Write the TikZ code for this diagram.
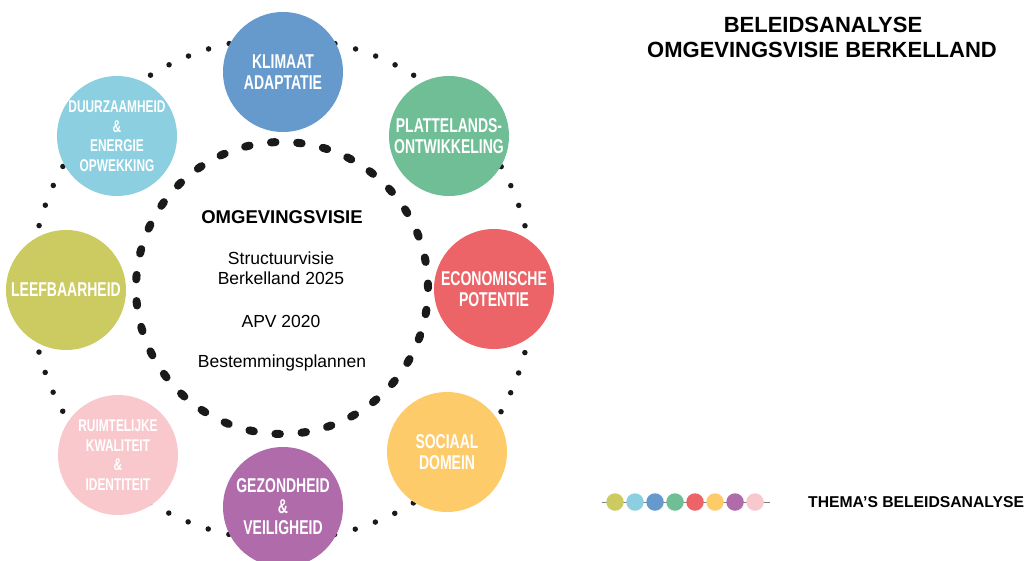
\documentclass[tikz,border=0pt]{standalone}
\usepackage{fontspec}
\setmainfont{Liberation Sans}
\newfontfamily\condfont{Liberation Sans}[FakeStretch=0.7]
\definecolor{cBlue}{RGB}{102,153,204}
\definecolor{cLight}{RGB}{139,207,224}
\definecolor{cGreen}{RGB}{111,190,150}
\definecolor{cRed}{RGB}{236,100,104}
\definecolor{cYellow}{RGB}{254,203,107}
\definecolor{cPurple}{RGB}{175,107,170}
\definecolor{cPink}{RGB}{248,200,204}
\definecolor{cOlive}{RGB}{204,203,98}
\definecolor{dotcol}{RGB}{26,26,26}
\begin{document}
\begin{tikzpicture}[x=1pt,y=-1pt,
  theme/.style={circle, minimum size=120pt, inner sep=0pt, draw=none, text=white, align=center,
    font=\condfont\bfseries\fontsize{20}{21}\selectfont},
  smalltheme/.style={theme, font=\condfont\bfseries\fontsize{17}{19.5}\selectfont},
  outerdots/.style={draw=dotcol, line width=5.5pt, line cap=round, dash pattern=on 0pt off 21.31pt},
  innerdash/.style={draw=dotcol, line width=8pt, line cap=round, dash pattern=on 4.5pt off 21.71pt},
  centertext/.style={anchor=base, inner sep=0pt, font=\fontsize{17.5}{20}\selectfont},
  titletext/.style={anchor=base, inner sep=0pt, font=\bfseries\fontsize{22}{25}\selectfont},
  legdot/.style={circle, minimum size=17.5pt, inner sep=0pt, draw=none}
]
\useasboundingbox (0,0) rectangle (1027,560);
\coordinate (ctr) at (282,289);
\coordinate (ictr) at (282,288);
% rings
\draw[outerdots] (ctr) circle[radius=251pt];
\draw[innerdash] (ictr) circle[radius=146pt];
% theme circles
\node[theme, fill=cBlue] (klimaat) at (283,72) {KLIMAAT\\ADAPTATIE};
\node[theme, fill=cGreen] (platteland) at (449,136) {PLATTELANDS-\\ONTWIKKELING};
\node[theme, fill=cRed] (econ) at (494,289) {ECONOMISCHE\\POTENTIE};
\node[theme, fill=cYellow] (sociaal) at (447,452) {SOCIAAL\\DOMEIN};
\node[theme, fill=cPurple] (gezond) at (283,507) {GEZONDHEID\\\&\\VEILIGHEID};
\node[smalltheme, fill=cPink] (ruimte) at (118,455) {RUIMTELIJKE\\KWALITEIT\\\&\\IDENTITEIT};
\node[theme, fill=cOlive] (leef) at (66,290) {LEEFBAARHEID};
\node[smalltheme, fill=cLight] (duurz) at (117,136) {DUURZAAMHEID\\\&\\ENERGIE\\OPWEKKING};
% center texts
\node[centertext, font=\bfseries\fontsize{18.5}{20}\selectfont] (omg) at (282,223) {OMGEVINGSVISIE};
\node[centertext] (sv1) at (281,264) {Structuurvisie};
\node[centertext] (sv2) at (281,284) {Berkelland 2025};
\node[centertext] (apv) at (281,327) {APV 2020};
\node[centertext] (bp) at (282,367) {Bestemmingsplannen};
% title
\node[titletext] (t1) at (823,32) {BELEIDSANALYSE};
\node[titletext] (t2) at (822,57) {OMGEVINGSVISIE BERKELLAND};
% legend
\coordinate (lgL) at (602,502);
\coordinate (lgR) at (770,502);
\draw[gray, line width=0.8pt] (lgL) -- (lgR);
\foreach \c [count=\i from 0] in {cOlive,cLight,cBlue,cGreen,cRed,cYellow,cPurple,cPink}{
  \node[legdot, fill=\c] (ld\i) at (615+20*\i,502) {};
}
\node[anchor=base west, inner sep=0pt, font=\bfseries\fontsize{15.7}{18}\selectfont] (legtxt) at (808,507) {THEMA’S BELEIDSANALYSE};
\end{tikzpicture}
\end{document}
